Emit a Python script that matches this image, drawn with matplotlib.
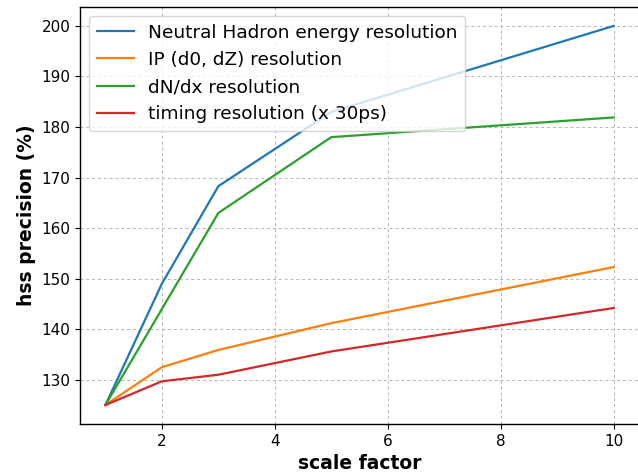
import matplotlib.pyplot as plt
import numpy as np

# scale factors
scale = [1, 2, 3, 5, 10]

# resolutions (hss precision in %)
neutral_hadron = [125, 149, 168.3, 183, 200]
ip_res = [125, 132.5, 135.9, 141.2, 152.3]
dndx_res = [125, 144, 163, 178, 181.9]
timing_res = [125, 129.7, 131, 135.6, 144.2]

labels = ["Neutral Hadron energy resolution",
          "IP (d0, dZ) resolution",
          "dN/dx resolution",
          "timing resolution (x 30ps)"]

fig = plt.figure(figsize=(6.38, 4.74), dpi=100)
ax = fig.add_axes([80 / 638, 50 / 474, 559 / 638, 417 / 474])

ax.plot(scale, neutral_hadron, label=labels[0], lw=1.6)
ax.plot(scale, ip_res, label=labels[1], lw=1.6)
ax.plot(scale, dndx_res, label=labels[2], lw=1.6)
ax.plot(scale, timing_res, label=labels[3], lw=1.6)

ax.grid(linestyle=(0, (3, 3)), color="#b5b5b5", lw=0.7)
for s in ax.spines.values():
    s.set_linewidth(1.0)
ax.tick_params(labelsize=11)
ax.set_xlabel("scale factor", fontsize=13.5, fontweight="bold")
ax.set_ylabel("hss precision (%)", fontsize=13.5, fontweight="bold")
ax.legend(fontsize=13.3, loc="upper left")

fig.savefig("out.png", dpi=100)
